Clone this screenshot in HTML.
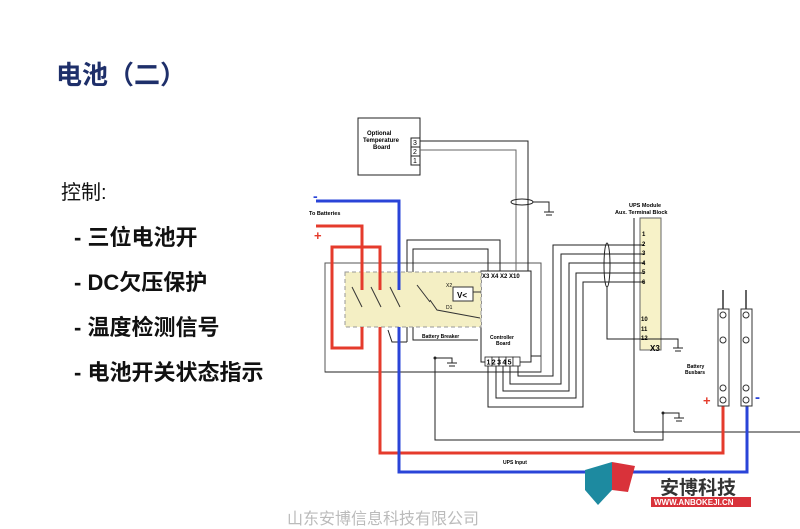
<!DOCTYPE html>
<html><head><meta charset="utf-8"><style>
html,body{margin:0;padding:0;background:#fff;}
body{width:800px;height:529px;position:relative;overflow:hidden;font-family:"Liberation Sans","Noto Sans CJK SC",sans-serif;}
.t{position:absolute;white-space:nowrap;}
</style></head><body>
<div class="t" style="left:56px;top:55px;font-size:26px;font-weight:bold;color:#1e2f6a;">电池（二）</div>
<div class="t" style="left:61px;top:176px;font-size:20px;color:#111;">控制:</div>
<div class="t" style="left:74px;top:220px;font-size:22px;font-weight:bold;color:#111;">- 三位电池开</div>
<div class="t" style="left:74px;top:265px;font-size:22px;font-weight:bold;color:#111;">- DC欠压保护</div>
<div class="t" style="left:74px;top:310px;font-size:22px;font-weight:bold;color:#111;">- 温度检测信号</div>
<div class="t" style="left:74px;top:355px;font-size:22px;font-weight:bold;color:#111;">- 电池开关状态指示</div>
<div class="t" style="left:287px;top:505px;font-size:16px;color:#bbb;">山东安博信息科技有限公司</div>

<svg width="800" height="529" style="position:absolute;left:0;top:0" font-family="Liberation Sans, sans-serif">
<g fill="none" stroke="#222" stroke-width="1">
 <rect x="358" y="118" width="62" height="57"/>
 <rect x="411" y="138" width="9" height="9"/><rect x="411" y="147" width="9" height="9"/><rect x="411" y="156" width="9" height="9"/>
 <rect x="325" y="263" width="216" height="109" stroke="#555"/>
 <rect x="481" y="271" width="50" height="91" fill="#fff"/>
 <rect x="640" y="218" width="21" height="132" fill="#f7f2c8" stroke="#666"/>
 <line x1="634" y1="218" x2="634" y2="432"/>
 <line x1="634" y1="432" x2="800" y2="432"/>
 <polyline points="420,141 528,141 528,271"/>
 <polyline points="420,150 516,150 516,271" stroke="#666"/>
 <ellipse cx="522" cy="202" rx="11" ry="3"/>
 <polyline points="533,202 549,202 549,212"/>
 <polyline points="488,271 488,249 413,249 413,340 478,340"/>
 <polyline points="500,271 500,240 407,240 407,342"/>
 <polyline points="518,362 518,376 553,376 553,245 644,245"/>
 <polyline points="510,362 510,384 561,384 561,254 644,254"/>
 <polyline points="503,362 503,391 569,391 569,263 644,263"/>
 <polyline points="496,362 496,398 576,398 576,273 644,273"/>
 <polyline points="488,362 488,407 583,407 583,282 644,282"/>
 <polyline points="531,356 541,356"/>
 <ellipse cx="607" cy="265" rx="3" ry="22"/>
 <polyline points="607,287 607,339 644,339 678,339 678,348"/>
 <polyline points="435,358 435,440 663,440 663,413"/>
 <polyline points="435,358 452,358 452,363"/>
 <polyline points="663,413 679,413 679,418"/>
 <polyline points="325,372 541,372"/>
 <polyline points="388,330 392,342 407,342"/>
</g>
<g stroke="#222" stroke-width="1">
 <line x1="544" y1="212" x2="554" y2="212"/><line x1="546" y1="215" x2="552" y2="215"/>
 <line x1="447" y1="363" x2="457" y2="363"/><line x1="449" y1="366" x2="455" y2="366"/>
 <line x1="673" y1="348" x2="683" y2="348"/><line x1="675" y1="351" x2="681" y2="351"/>
 <line x1="674" y1="418" x2="684" y2="418"/><line x1="676" y1="421" x2="682" y2="421"/>
</g>
<circle cx="435" cy="358" r="1.5" fill="#222"/><circle cx="663" cy="413" r="1.5" fill="#222"/>
<rect x="345" y="272" width="136" height="55" fill="#f4efc4" stroke="#999" stroke-dasharray="4,3"/>
<g stroke="#333" fill="none">
 <line x1="352" y1="287" x2="362" y2="307"/><line x1="371" y1="287" x2="381" y2="307"/><line x1="390" y1="287" x2="400" y2="307"/><line x1="417" y1="285" x2="430" y2="302"/>
 <rect x="453" y="287" width="20" height="14" fill="#fff"/>
 <polyline points="473,292 481,292"/><polyline points="430,300 437,310 480,318"/>
</g>
<text x="457" y="298" font-size="8" font-weight="bold">V&lt;</text>
<text x="446" y="287" font-size="5">X2</text><text x="446" y="309" font-size="5">D1</text>
<text x="482" y="278" font-size="6" font-weight="bold">X3  X4  X2  X10</text>
<text x="422" y="338" font-size="5" font-weight="bold">Battery Breaker</text>
<text x="490" y="339" font-size="5" font-weight="bold">Controller</text>
<text x="496" y="345" font-size="5" font-weight="bold">Board</text>
<g fill="#fff" stroke="#222" stroke-width="0.8"><rect x="485" y="357" width="7" height="9"/><rect x="492" y="357" width="7" height="9"/><rect x="499" y="357" width="7" height="9"/><rect x="506" y="357" width="7" height="9"/><rect x="513" y="357" width="7" height="9"/></g>
<text x="486.5" y="364.5" font-size="7" font-weight="bold" letter-spacing="1.4">12345</text>
<text x="367" y="135" font-size="6" font-weight="bold">Optional</text>
<text x="363" y="142" font-size="6" font-weight="bold">Temperature</text>
<text x="373" y="149" font-size="6" font-weight="bold">Board</text>
<text x="413" y="145" font-size="7">3</text><text x="413" y="154" font-size="7">2</text><text x="413" y="163" font-size="7">1</text>
<text x="629" y="207" font-size="5.5" font-weight="bold">UPS Module</text>
<text x="615" y="214" font-size="5.5" font-weight="bold">Aux. Terminal Block</text>
<text x="309" y="215" font-size="5.5" font-weight="bold">To Batteries</text>
<g font-size="6" font-weight="bold"><text x="642" y="236">1</text><text x="642" y="246">2</text><text x="642" y="255">3</text><text x="642" y="265">4</text><text x="642" y="274">5</text><text x="642" y="284">6</text><text x="641" y="321">10</text><text x="641" y="331">11</text><text x="641" y="340">12</text></g>
<text x="650" y="351" font-size="8" font-weight="bold">X3</text>
<text x="687" y="368" font-size="5" font-weight="bold">Battery</text><text x="685" y="374" font-size="5" font-weight="bold">Busbars</text>
<text x="503" y="464" font-size="5" font-weight="bold">UPS Input</text>
<g fill="none" stroke-width="3">
 <polyline stroke="#e53b2c" points="316,226 362,226 362,290"/>
 <polyline stroke="#e53b2c" points="362,327 362,348 332,348 332,247 380,247 380,290"/>
 <polyline stroke="#e53b2c" points="380,327 380,453 723,453 723,400"/>
 <polyline stroke="#2a44d8" points="316,201 399,201 399,290"/>
 <polyline stroke="#2a44d8" points="399,327 399,472 747,472 747,400"/>
</g>
<text x="313" y="201" font-size="14" font-weight="bold" fill="#2a44d8">-</text>
<text x="314" y="240" font-size="13" font-weight="bold" fill="#e53b2c">+</text>
<text x="703" y="405" font-size="13" font-weight="bold" fill="#e53b2c">+</text>
<text x="755" y="402" font-size="15" font-weight="bold" fill="#2a44d8">-</text>
<g fill="#fff" stroke="#333">
 <path d="M723 290 v20 M746 290 v20" stroke="#666" stroke-width="2"/>
 <rect x="718" y="309" width="11" height="97"/><rect x="741" y="309" width="11" height="97"/>
 <circle cx="723" cy="315" r="3"/><circle cx="723" cy="340" r="3"/><circle cx="723" cy="388" r="3"/><circle cx="723" cy="400" r="3"/>
 <circle cx="746" cy="315" r="3"/><circle cx="746" cy="340" r="3"/><circle cx="746" cy="388" r="3"/><circle cx="746" cy="400" r="3"/>
</g>
<path d="M585 470 L612 462 L612 490 L598 505 L585 490 Z" fill="#1d8aa0"/>
<path d="M612 462 L635 466 L628 492 L612 490 Z" fill="#d9323a"/>
<text x="660" y="494" font-size="19" font-weight="bold" fill="#333" font-family="Liberation Sans, Noto Sans CJK SC, sans-serif">安博科技</text>
<rect x="651" y="497" width="100" height="10" fill="#d9323a"/>
<text x="654" y="505" font-size="8" font-weight="bold" fill="#fff">WWW.ANBOKEJI.CN</text>
</svg>
</body></html>
